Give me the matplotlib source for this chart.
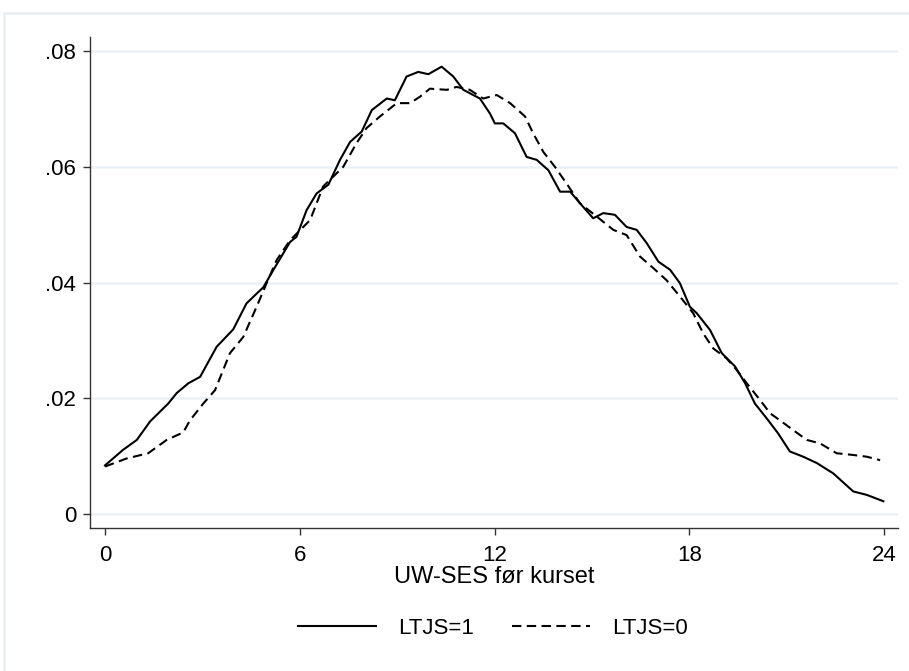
import matplotlib
matplotlib.use("Agg")
import matplotlib.pyplot as plt
from matplotlib.patches import Rectangle

plt.rcParams["font.family"] = ["Liberation Sans", "DejaVu Sans"]

# LTJS=1 (solid) density curve
x1 = [0.0, 0.56, 0.98, 1.39, 1.95, 2.21, 2.57, 2.93, 3.44, 3.95, 4.36, 4.88,
      5.19, 5.70, 5.90, 6.21, 6.52, 6.88, 7.24, 7.55, 7.91, 8.22, 8.68, 8.93,
      9.29, 9.65, 9.96, 10.37, 10.73, 11.04, 11.55, 11.86, 12.01, 12.27,
      12.63, 12.99, 13.30, 13.66, 14.02, 14.33, 14.68, 15.04, 15.35, 15.71,
      16.07, 16.38, 16.69, 17.05, 17.41, 17.71, 18.02, 18.23, 18.64, 19.00,
      19.41, 19.72, 20.02, 20.43, 20.74, 21.10, 21.51, 21.93, 22.44, 23.05,
      23.47, 23.98]
y1 = [0.0084, 0.0111, 0.0128, 0.0160, 0.0191, 0.0209, 0.0226, 0.0237, 0.0289,
      0.0319, 0.0364, 0.0392, 0.0422, 0.0470, 0.0479, 0.0525, 0.0554, 0.0569,
      0.0612, 0.0643, 0.0661, 0.0698, 0.0718, 0.0715, 0.0756, 0.0764, 0.0760,
      0.0773, 0.0756, 0.0733, 0.0718, 0.0692, 0.0675, 0.0675, 0.0658, 0.0617,
      0.0612, 0.0594, 0.0557, 0.0557, 0.0534, 0.0511, 0.0520, 0.0517, 0.0496,
      0.0491, 0.0468, 0.0436, 0.0422, 0.0399, 0.0358, 0.0347, 0.0318, 0.0278,
      0.0255, 0.0226, 0.0191, 0.0162, 0.0139, 0.0108, 0.0099, 0.0088, 0.0070,
      0.0039, 0.0033, 0.0022]

# LTJS=0 (dashed)
x0 = [0.0, 0.67, 1.33, 1.90, 2.41, 2.62, 3.03, 3.39, 3.85, 4.26, 4.67, 4.98,
      5.29, 5.70, 6.32, 6.72, 7.03, 7.34, 7.75, 8.06, 8.47, 8.99, 9.40, 9.70,
      10.01, 10.53, 10.83, 11.24, 11.65, 12.07, 12.48, 12.94, 13.19, 13.50,
      13.86, 14.22, 14.63, 15.15, 15.66, 16.07, 16.48, 16.89, 17.30, 17.71,
      18.12, 18.43, 18.74, 19.15, 19.46, 19.77, 20.18, 20.49, 20.79, 21.20,
      21.62, 22.03, 22.54, 23.05, 23.47, 23.88]
y0 = [0.0082, 0.0096, 0.0105, 0.0128, 0.0141, 0.0162, 0.0191, 0.0214, 0.0278,
      0.0306, 0.0358, 0.0399, 0.0439, 0.0473, 0.0508, 0.0566, 0.0583, 0.0600,
      0.0641, 0.0667, 0.0687, 0.0710, 0.0710, 0.0721, 0.0735, 0.0733, 0.0738,
      0.0733, 0.0718, 0.0724, 0.0710, 0.0687, 0.0658, 0.0626, 0.0600, 0.0571,
      0.0537, 0.0514, 0.0491, 0.0482, 0.0445, 0.0425, 0.0404, 0.0376, 0.0347,
      0.0312, 0.0286, 0.0269, 0.0249, 0.0226, 0.0197, 0.0174, 0.0162, 0.0145,
      0.0128, 0.0122, 0.0105, 0.0102, 0.0099, 0.0093]

xticks = [0, 6, 12, 18, 24]
yticks = [0, 0.02, 0.04, 0.06, 0.08]
ytick_labels = ["0", ".02", ".04", ".06", ".08"]

fig = plt.figure(figsize=(9.09, 6.71), dpi=100)

# light outer frame (graph region border)
fig.patches.append(Rectangle((4 / 909, -0.05), 1.2, 1 - 13 / 671 + 0.05,
                             transform=fig.transFigure, fill=False,
                             edgecolor="#e6eef2", linewidth=1.8))

ax = fig.add_axes([90 / 909, 1 - 528 / 671, (898 - 90) / 909, (528 - 37) / 671])

ax.plot(x1, y1, color="black", linewidth=1.5, label="LTJS=1")
ax.plot(x0, y0, color="black", linewidth=1.5, linestyle=(0, (4.5, 2.6)),
        label="LTJS=0")

ax.set_xlim(-0.462, 24.43)
ax.set_ylim(-0.00242, 0.08243)
ax.set_xticks(xticks)
ax.set_yticks(yticks)
ax.set_yticklabels(ytick_labels)
ax.tick_params(axis="both", labelsize=16, length=5, width=1, color="#333333")
ax.tick_params(axis="x", pad=7)
ax.tick_params(axis="y", pad=5)

for side in ["top", "right"]:
    ax.spines[side].set_visible(False)
for side in ["left", "bottom"]:
    ax.spines[side].set_color("#333333")
    ax.spines[side].set_linewidth(1)

ax.grid(axis="y", color="#eaf1f4", linewidth=1.8)
ax.set_axisbelow(True)

ax.set_xlabel("UW-SES før kurset", fontsize=17, labelpad=0)

fig.legend(loc="center", bbox_to_anchor=(493 / 909, 1 - 628 / 671), ncol=2,
           frameon=False, fontsize=16, handlelength=3.5, columnspacing=1.7,
           handletextpad=1.0)

fig.savefig("out.png", dpi=100)
